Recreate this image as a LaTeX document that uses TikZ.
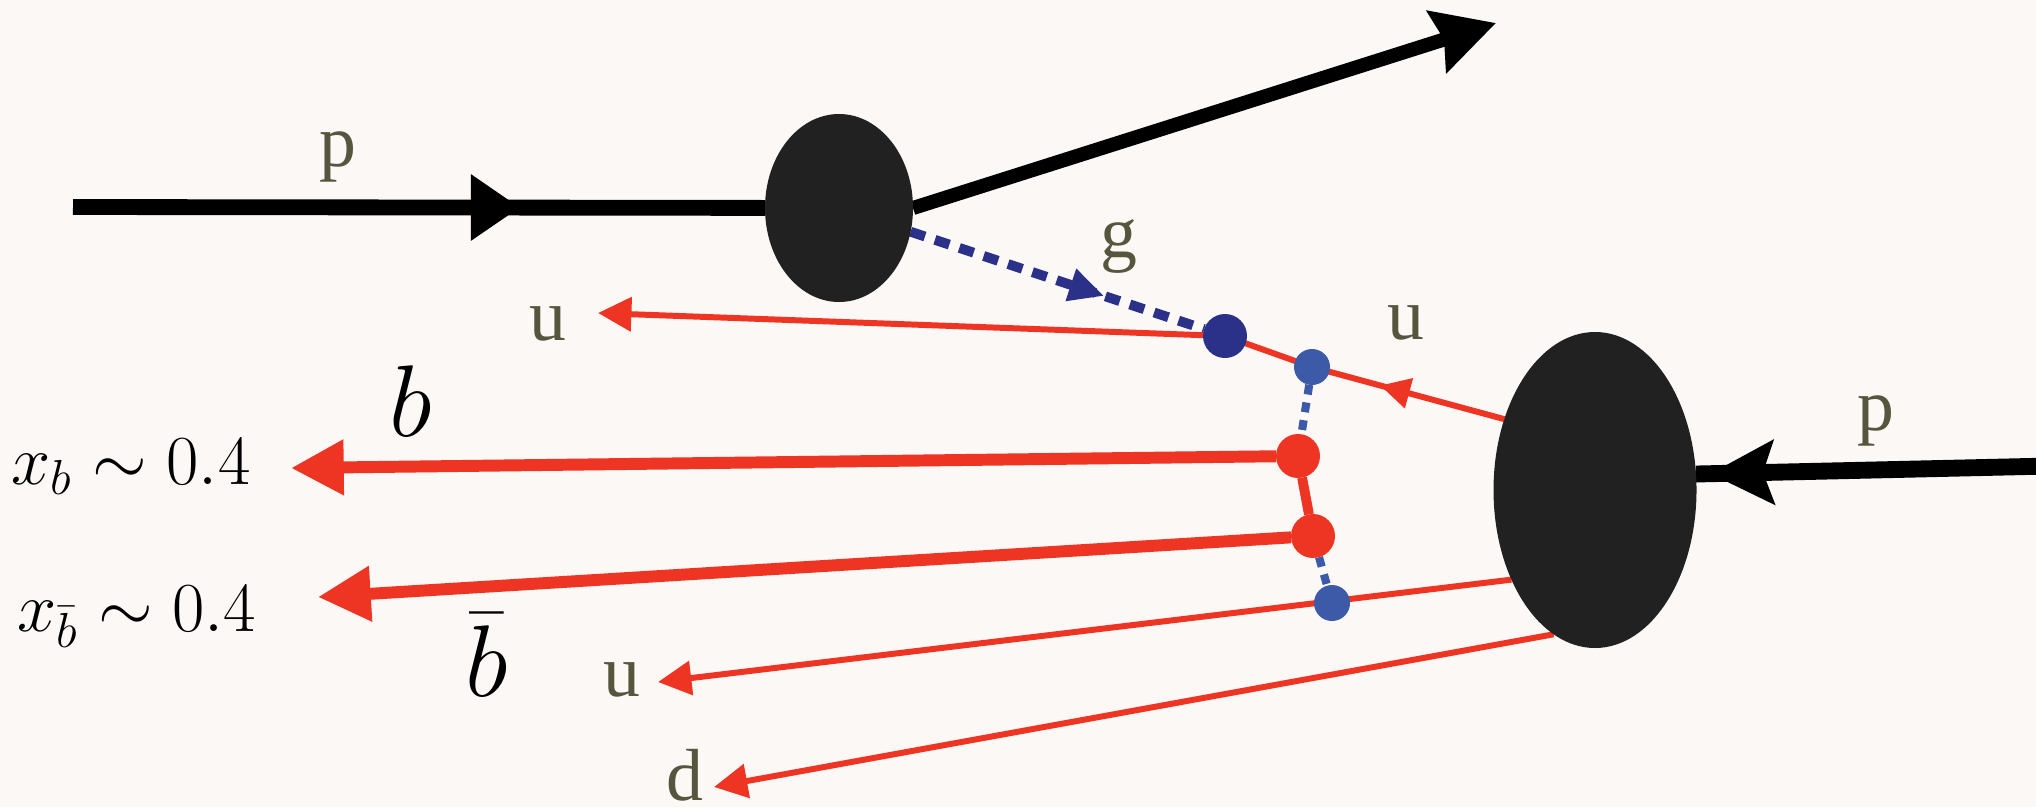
\RequirePackage{fix-cm}
\documentclass[tikz,border=0pt]{standalone}
\usepackage{fontspec}
\newfontfamily\lblfont{Liberation Serif}
\usetikzlibrary{arrows.meta, shapes.geometric, decorations.markings, backgrounds}
\definecolor{bgc}{HTML}{FBF8F5}
\definecolor{blobc}{HTML}{212121}
\definecolor{qred}{HTML}{EE3524}
\definecolor{gnavy}{HTML}{2B3188}
\definecolor{lblue}{HTML}{3D5AA8}
\definecolor{lblc}{HTML}{56563F}
\tikzset{
  blob/.style={ellipse, fill=blobc, inner sep=0pt, outer sep=0pt},
  dot/.style={circle, fill=#1, inner sep=0pt, outer sep=0pt, minimum size=0.36cm},
  proton/.style={line width=4.5pt, draw=black},
  quark/.style={line width=1.7pt, draw=qred},
  heavy/.style={line width=3.4pt, draw=qred},
  gluon/.style={line width=2.8pt, draw=gnavy, dash pattern=on 4.3pt off 3pt},
  exch/.style={line width=2.3pt, draw=lblue, dash pattern=on 2.8pt off 2.3pt},
  tipat/.style 2 args={postaction={decorate}, decoration={markings, mark=at position #1 with {\arrow{#2}}}},
  lbl/.style={text=lblc, font=\lblfont\fontsize{21}{24}\selectfont, inner sep=0pt},
  mlbl/.style={font=\fontsize{29}{32}\selectfont, inner sep=0pt},
  xlbl/.style={font=\fontsize{20}{22}\selectfont, inner sep=0pt, anchor=base},
}
\begin{document}
\begin{tikzpicture}
  \begin{scope}[on background layer]
    \fill[bgc] (0,0) rectangle (20.36,8.07);
  \end{scope}
  \useasboundingbox (0,0) rectangle (20.36,8.07);
  % the two protons
  \node[blob, minimum width=1.48cm, minimum height=1.88cm] (e1) at (8.39,5.99) {};
  \node[blob, minimum width=2.03cm, minimum height=3.16cm] (e2) at (15.95,3.17) {};
  % vertices
  \node[dot=gnavy, minimum size=0.44cm] (nd) at (12.25,4.71) {};
  \node[dot=lblue] (v1) at (13.12,4.40) {};
  \node[dot=qred, minimum size=0.44cm] (r1) at (12.98,3.51) {};
  \node[dot=qred, minimum size=0.44cm] (r2) at (13.13,2.71) {};
  \node[dot=lblue] (v2) at (13.32,2.04) {};
  % free ends
  \coordinate (pin) at (0.73,6.00);
  \coordinate (pout) at (14.96,7.84);
  \coordinate (pr) at (20.50,3.41);
  \coordinate (u1) at (5.98,4.94);
  \coordinate (u2) at (6.58,1.25);
  \coordinate (dq) at (7.14,0.20);
  \coordinate (bq) at (2.91,3.39);
  \coordinate (bbq) at (3.18,2.10);
  \begin{scope}[on background layer]
    \draw[proton, tipat={0.646}{Triangle[length=14pt,width=18pt]}] (pin) -- (e1);
    \draw[proton, line width=4pt, -{Stealth[length=17.5pt,width=18pt,inset=2pt]}] (e1.east) -- (pout);
    \draw[proton, line width=4.8pt, tipat={0.96}{Stealth[length=18pt,width=18pt,inset=3pt]}] (pr) -- (e2.9);
    \draw[gluon, tipat={0.66}{Triangle[length=10pt,width=9pt]}] (e1) -- (nd);
    \draw[quark, -{Triangle[length=9.5pt,width=9.5pt]}, tipat={0.14}{Triangle[length=8.5pt,width=8.5pt]}]
      (e2.142) -- (v1.center) -- (nd.center) -- (u1);
    \foreach \a/\b in {227/u2, 254/dq}
      \draw[quark, -{Triangle[length=9.5pt,width=9.5pt]}] (e2.\a) -- (\b);
    \foreach \a/\b in {r1/bq, r2/bbq}
      \draw[heavy, -{Triangle[length=15pt,width=15pt]}] (\a) -- (\b);
    \draw[heavy, line width=2.8pt] (r1) -- (r2);
    \draw[exch] (v1) -- (r1);
    \draw[exch] (r2) -- (v2);
  \end{scope}
  % labels
  \node[lbl] (pl1) at (3.38,6.50) {p};
  \node[lbl] (pl2) at (18.76,3.86) {p};
  \node[lbl] (gl) at (11.19,5.60) {g};
  \node[lbl] (ul1) at (5.48,4.83) {u};
  \node[lbl] (ul2) at (14.06,4.84) {u};
  \node[lbl] (ul3) at (6.22,1.27) {u};
  \node[lbl, anchor=base] (dl) at (6.85,0.07) {d};
  \node[mlbl] (bl) at (4.11,4.06) {$b$};
  \node[mlbl] (bbl) at (4.87,1.52) {$\bar{b}$};
  \node[xlbl] (xb) at (1.31,3.23) {$x_b\sim0.4$};
  \node[xlbl] (xbb) at (1.365,1.76) {$x_{\bar b}\sim0.4$};
\end{tikzpicture}
\end{document}
